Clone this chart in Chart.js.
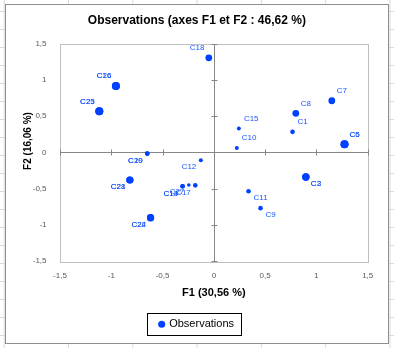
<!DOCTYPE html>
<html>
<head>
<meta charset="utf-8">
<script src="https://cdn.jsdelivr.net/npm/chart.js@4.4.0/dist/chart.umd.min.js"></script>
<style>
  html, body { margin: 0; padding: 0; }
  body {
    width: 394px; height: 348px; overflow: hidden;
    background-color: #fff;
    background-image:
      linear-gradient(to right, #d9d9d9 1px, transparent 1px),
      linear-gradient(to bottom, #d9d9d9 1px, transparent 1px);
    background-size: 64.3px 18px;
    background-position: 3.7px 11px;
  }
  #frame {
    position: absolute; left: 5px; top: 4px;
    width: 382px; height: 338px;
    border: 1px solid #8e8e8e; background: #fff;
  }
  canvas { display: block; }
</style>
</head>
<body>
<div id="frame"><canvas id="obsChart" width="382" height="338"></canvas></div>
<script>
// observation coordinates on the first two factors
const names = ['C1', 'C2', 'C3', 'C5', 'C6', 'C7', 'C8', 'C9', 'C10', 'C11', 'C12', 'C13', 'C14', 'C15',
    'C16', 'C17', 'C18', 'C19', 'C20', 'C21', 'C22', 'C23', 'C24', 'C25', 'C26', 'C27', 'C28'];
const f1 = [0.767, 0.897, 0.897, 1.274, 1.274, 1.150, 0.799, 0.455, 0.224, 0.338, -0.127, -0.305, -0.305, 0.244,
    -0.955, -0.181, -0.049, -0.649, -0.649, -0.819, -0.617, -1.117, -0.617, -1.117, -0.955, -0.244, -0.819];
const f2 = [0.284, -0.339, -0.339, 0.112, 0.112, 0.713, 0.540, -0.768, 0.061, -0.535, -0.107, -0.467, -0.467, 0.330,
    0.918, -0.454, 1.305, -0.016, -0.016, -0.380, -0.899, 0.567, -0.899, 0.567, 0.918, -0.448, -0.380];

const chartTitle = 'Observations (axes F1 et F2 : 46,62 %)';
const xTitle = 'F1 (30,56 %)';
const yTitle = 'F2 (16,06 %)';

// marker sizes per observation
const markerRadius = {
    C16: 4, C26: 4, C23: 4, C25: 4, C5: 4, C6: 4,
    C18: 3.4, C7: 3.4, C8: 3.4, C21: 3.6, C28: 3.6, C22: 3.6, C24: 3.6, C2: 3.7, C3: 3.7,
    C15: 2, C10: 2, C12: 2, C27: 1.8
};

const blue = '#0040ff';
const font = '"Liberation Sans", Arial, sans-serif';
const fmt = v => String(v).replace('.', ',');

// plot border and the two axes crossing at zero
const plotFrame = {
    id: 'plotFrame',
    beforeDatasetsDraw(chart) {
        const ctx = chart.ctx;
        const { left, right, top, bottom } = chart.chartArea;
        const xs = chart.scales.x, ys = chart.scales.y;
        const r = v => Math.round(v) + 0.5;
        ctx.save();
        ctx.lineWidth = 1;
        ctx.strokeStyle = '#bfbfbf';
        ctx.strokeRect(r(left), r(top), Math.round(right - left), Math.round(bottom - top));
        const x0 = r(xs.getPixelForValue(0)), y0 = r(ys.getPixelForValue(0));
        ctx.strokeStyle = '#868686';
        ctx.beginPath();
        ctx.moveTo(r(left), y0); ctx.lineTo(r(right), y0);
        ctx.moveTo(x0, r(top)); ctx.lineTo(x0, r(bottom));
        xs.ticks.forEach(t => {
            const px = r(xs.getPixelForValue(t.value));
            ctx.moveTo(px, y0 - 3); ctx.lineTo(px, y0 + 3);
        });
        ys.ticks.forEach(t => {
            const py = r(ys.getPixelForValue(t.value));
            ctx.moveTo(x0 - 3, py); ctx.lineTo(x0 + 3, py);
        });
        ctx.stroke();
        ctx.restore();
    }
};

// observation names next to each point, pushed away from the origin
const pointLabels = {
    id: 'pointLabels',
    afterDatasetsDraw(chart) {
        const ctx = chart.ctx;
        const meta = chart.getDatasetMeta(0);
        ctx.save();
        ctx.font = '8px ' + font;
        ctx.fillStyle = '#1a56ff';
        ctx.textBaseline = 'middle';
        meta.data.forEach((pt, i) => {
            const right = f1[i] >= 0, up = f2[i] >= 0;
            ctx.textAlign = right ? 'left' : 'right';
            ctx.fillText(names[i], pt.x + (right ? 5 : -4.5), pt.y + (up ? -10 : 7));
        });
        ctx.restore();
    }
};

// vertical axis title and the box around the legend
const extras = {
    id: 'extras',
    afterDraw(chart) {
        const ctx = chart.ctx;
        ctx.save();
        ctx.font = 'bold 10px ' + font;
        ctx.fillStyle = '#000';
        ctx.textAlign = 'center';
        ctx.textBaseline = 'middle';
        ctx.translate(22, 136);
        ctx.rotate(-Math.PI / 2);
        ctx.fillText(yTitle, 0, 0);
        ctx.restore();

        const lg = chart.legend;
        if (lg && lg.legendHitBoxes.length) {
            const hb = lg.legendHitBoxes[0];
            const cy = hb.top + hb.height / 2;
            ctx.save();
            ctx.strokeStyle = '#000';
            ctx.lineWidth = 1;
            const l = Math.round(hb.left - 13) + 0.5, rr = Math.round(hb.left + hb.width + 7) + 0.5;
            const t = Math.round(cy - 11) + 0.5, b = Math.round(cy + 11) + 0.5;
            ctx.strokeRect(l, t, rr - l, b - t);
            ctx.restore();
        }
    }
};

const ctx = document.getElementById('obsChart');

new Chart(ctx, {
    type: 'scatter',
    data: {
        datasets: [{
            label: 'Observations',
            data: names.map((n, i) => ({ x: f1[i], y: f2[i] })),
            backgroundColor: blue,
            pointBackgroundColor: blue,
            borderWidth: 0,
            pointBorderWidth: 0,
            pointRadius: names.map(n => markerRadius[n] || 2.3),
            pointHoverRadius: names.map(n => markerRadius[n] || 2.3),
        }]
    },
    options: {
        responsive: false,
        animation: false,
        events: [],
        layout: { padding: { left: 20, right: 20.3, top: 0, bottom: 3.3 } },
        scales: {
            x: {
                type: 'linear',
                min: -1.5,
                max: 1.5,
                afterFit: s => { s.height = 49.5; },
                ticks: {
                    stepSize: 0.5,
                    callback: fmt,
                    color: '#595959',
                    padding: 10,
                    maxRotation: 0,
                    font: { family: font, size: 8 }
                },
                grid: { display: false, drawTicks: false },
                border: { display: false },
                title: {
                    display: true,
                    text: xTitle,
                    color: '#000',
                    padding: { top: 0, bottom: 11.1 },
                    font: { family: font, size: 11, weight: 'bold' }
                }
            },
            y: {
                type: 'linear',
                min: -1.5,
                max: 1.5,
                afterFit: s => { s.width = 34; },
                ticks: {
                    stepSize: 0.5,
                    callback: fmt,
                    color: '#595959',
                    padding: 13.5,
                    font: { family: font, size: 8 }
                },
                grid: { display: false, drawTicks: false },
                border: { display: false }
            }
        },
        plugins: {
            title: {
                display: true,
                text: chartTitle,
                color: '#000',
                padding: { top: 8, bottom: 16.3 },
                font: { family: font, size: 12, weight: 'bold' }
            },
            legend: {
                display: true,
                position: 'bottom',
                labels: {
                    usePointStyle: true,
                    pointStyle: 'circle',
                    boxWidth: 4,
                    boxHeight: 5,
                    padding: 8,
                    color: '#000',
                    font: { family: font, size: 11 }
                }
            },
            tooltip: { enabled: false }
        }
    },
    plugins: [plotFrame, pointLabels, extras]
});
</script>
</body>
</html>
